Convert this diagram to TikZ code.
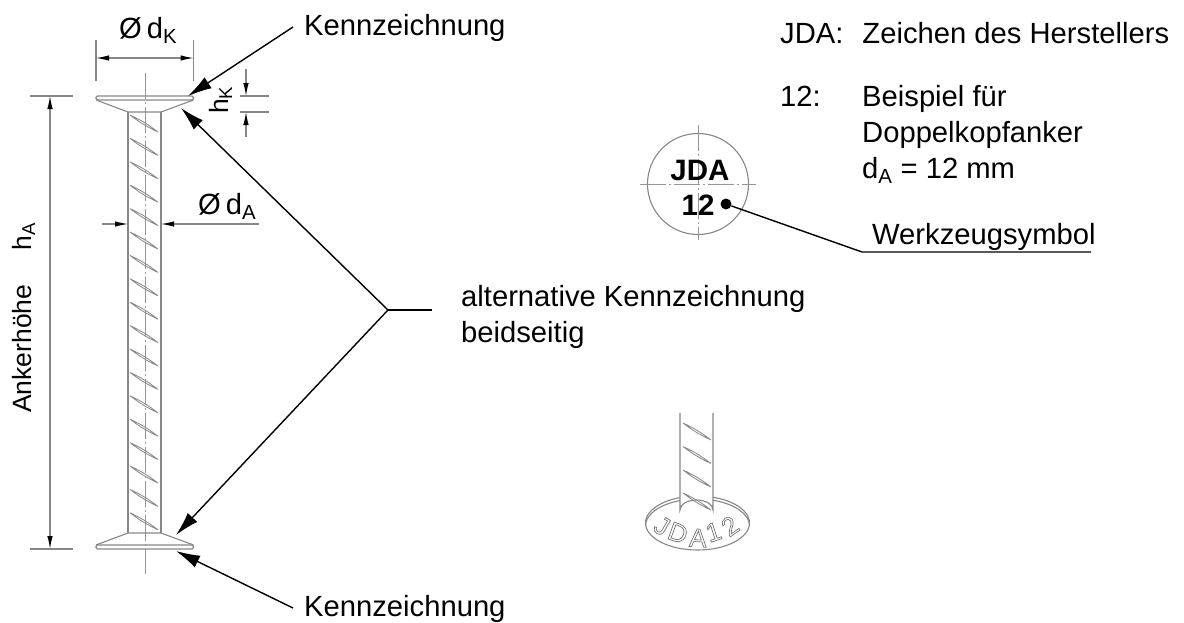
\documentclass[tikz,border=0pt]{standalone}
\usepackage{fontspec}
\setmainfont{Liberation Sans}
\usetikzlibrary{arrows.meta}
\tikzstyle{plan} = [x = 1pt, y = -1pt]
\definecolor{thinColor}{RGB}{135,135,135}
\definecolor{axisColor}{RGB}{150,150,150}
\tikzstyle{bodyLine} = [color=thinColor, line width=1.1pt]
\tikzstyle{ribLine} = [color=thinColor, line width=.8pt]
\tikzstyle{axisLine} = [color=axisColor, line width=.9pt, dash pattern=on 26pt off 3pt on 2pt off 3pt]
\tikzstyle{dimLine} = [color=thinColor, line width=1.1pt]
\tikzstyle{dimArrow} = [dimLine, {Latex[length=13pt, width=5.5pt, black]}-{Latex[length=13pt, width=5.5pt, black]}]
\tikzstyle{oneArrow} = [dimLine, -{Latex[length=13pt, width=5.5pt, black]}]
\tikzstyle{leaderLine} = [color=black, line width=1.4pt]
\tikzstyle{leaderArrow} = [leaderLine, -{Latex[length=24pt, width=13pt]}]
\tikzstyle{plainText} = [font=\fontsize{29.2}{29.2}\selectfont, anchor=base west, inner sep=0pt]
\tikzstyle{sideText} = [font=\fontsize{26.5}{26.5}\selectfont, anchor=base west, inner sep=0pt, rotate=90]
\tikzstyle{boldText} = [font=\fontsize{29.5}{29.5}\selectfont\bfseries, inner sep=0pt]
\tikzstyle{plateText} = [font=\fontsize{26}{26}\selectfont, inner sep=0pt]
\newcommand{\shaftRib}[2]{\draw [ribLine] (#1,#2) to [bend left=6] +(28,17) to [bend left=6] (#1,#2);}
\newcommand{\plateGlyph}[1]{\special{pdf:code q 1 Tr .7 w .45 G}#1\special{pdf:code Q}}
\begin{document}
\begin{tikzpicture}[plan]
  \useasboundingbox (0,0) rectangle (1184,622);

  % anchor, side view
  \draw [axisLine] (145,73) -- (145,574);
  \draw [bodyLine] (128,112) -- (128,533);
  \draw [bodyLine] (161,112) -- (161,533);
  \foreach \ribY in {115,138.4,...,513} {
    \shaftRib{130}{\ribY}
  }
  \draw [bodyLine, rounded corners=1.5pt] (96,96) rectangle (193.5,100);
  \draw [bodyLine] (96,100) -- (128,112) -- (161,112) -- (193.5,100);
  \draw [bodyLine, rounded corners=1.5pt] (96,545) rectangle (193.5,549);
  \draw [bodyLine] (96,545) -- (128,533) -- (161,533) -- (193.5,545);

  % dimensions
  \coordinate (headLeft) at (96,58);
  \coordinate (headRight) at (193.5,58);
  \draw [dimLine] (96,40) -- (96,81);
  \draw [dimLine] (193.5,40) -- (193.5,81);
  \draw [dimArrow] (headLeft) -- (headRight);
  \node (headDia) [plainText] at (119,38) {Ø\hspace{5pt}d\textsubscript{K}};

  \coordinate (heightTop) at (50,96);
  \coordinate (heightBottom) at (50,549);
  \draw [dimLine] (30,96) -- (73,96);
  \draw [dimLine] (30,549) -- (73,549);
  \draw [dimArrow] (heightTop) -- (heightBottom);
  \node (heightLabel) [sideText] at (31,413) {Ankerhöhe\hspace{34pt}h\textsubscript{A}};

  \coordinate (kTop) at (246,96);
  \coordinate (kBottom) at (246,112);
  \coordinate (kTopEnd) at (246,69);
  \coordinate (kBottomEnd) at (246,137);
  \draw [dimLine] (240,96) -- (269,96);
  \draw [dimLine] (240,112) -- (269,112);
  \draw [oneArrow] (kTopEnd) -- (kTop);
  \draw [oneArrow] (kBottomEnd) -- (kBottom);
  \node (kLabel) [sideText] at (228,114) {h\textsubscript{K}};

  \coordinate (shaftLeft) at (128,224);
  \coordinate (shaftRight) at (161,224);
  \coordinate (shaftLeftEnd) at (102,224);
  \coordinate (shaftRightEnd) at (259,224);
  \draw [oneArrow] (shaftLeftEnd) -- (shaftLeft);
  \draw [oneArrow] (shaftRightEnd) -- (shaftRight);
  \node (shaftDia) [plainText] at (198,214) {Ø\hspace{5pt}d\textsubscript{A}};

  % leaders
  \node (markTop) [plainText] at (304,35) {Kennzeichnung};
  \node (markBottom) [plainText] at (304,616) {Kennzeichnung};
  \node (altLine) [plainText] at (461,306) {alternative Kennzeichnung};
  \node (altLineB) [plainText] at (461,342) {beidseitig};
  \coordinate (topStart) at (293,27);
  \coordinate (topTip) at (188,96);
  \coordinate (bottomStart) at (293,608);
  \coordinate (bottomTip) at (176,551);
  \coordinate (altJoin) at (388,310);
  \coordinate (altEnd) at (432,310);
  \coordinate (altTipTop) at (181,108);
  \coordinate (altTipBottom) at (176,535);
  \draw [leaderArrow] (topStart) -- (topTip);
  \draw [leaderArrow] (bottomStart) -- (bottomTip);
  \draw [leaderArrow] (altJoin) -- (altTipTop);
  \draw [leaderArrow] (altJoin) -- (altTipBottom);
  \draw [leaderLine] (altJoin) -- (altEnd);

  % notes
  \node (noteJda) [plainText] at (780,43) {JDA:\hspace{19pt}Zeichen des Herstellers};
  \node (noteNum) [plainText] at (780,106) {12:};
  \node (noteA) [plainText] at (862,106) {Beispiel für};
  \node (noteB) [plainText] at (862,142) {Doppelkopfanker};
  \node (noteC) [plainText] at (862,178) {d\textsubscript{A} = 12 mm};

  % head, top view
  \draw [bodyLine] (698,184) circle (50.5);
  \draw [axisLine] (640,184) -- (756,184);
  \draw [axisLine] (698,125) -- (698,240);
  \node (headJda) [boldText] at (700,170) {JDA};
  \node (headNum) [boldText] at (698,205) {12};
  \node (toolDot) [circle, fill=black, inner sep=0pt, minimum size=11pt] at (726,204) {};
  \node (toolText) [plainText] at (872,244) {Werkzeugsymbol};
  \coordinate (toolKnee) at (862,252);
  \coordinate (toolEnd) at (1091,252);
  \draw [leaderLine] (toolDot) -- (toolKnee) -- (toolEnd);

  % head, perspective
  \draw [bodyLine] (697.5,523) ellipse (52 and 27);
  \draw [bodyLine] (645.5,526) arc (180:360:52 and 27);
  \draw [bodyLine, fill=white] (680,413) -- (680,510) arc (180:360:16.5 and 10) -- (713,413);
  \foreach \ribY in {423,446.5,470,493} {
    \shaftRib{683}{\ribY}
  }
  \node (plateJ) [plateText, rotate=-30] at (662,526) {\plateGlyph{J}};
  \node (plateD) [plateText, rotate=-20] at (678,533) {\plateGlyph{D}};
  \node (plateA) [plateText, rotate=-3] at (698,538) {\plateGlyph{A}};
  \node (plateOne) [plateText, rotate=18] at (713.5,532) {\plateGlyph{1}};
  \node (plateTwo) [plateText, rotate=35] at (730,526) {\plateGlyph{2}};
\end{tikzpicture}
\end{document}
